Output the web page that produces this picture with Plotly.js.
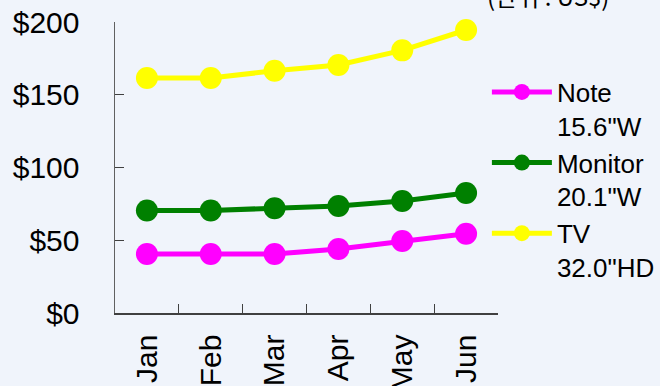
<!DOCTYPE html>
<html>
<head>
<meta charset="utf-8">
<script src="https://cdn.plot.ly/plotly-3.0.1.min.js"></script>
<style>html,body{margin:0;padding:0;background:#f0f4fb;}#chart{width:660px;height:386px;}</style>
</head>
<body>
<div id="chart"></div>
<script>
const months = ["Jan", "Feb", "Mar", "Apr", "May", "Jun"];
const noteValues = [40.5, 40.5, 40.5, 44, 49.5, 54.5];
const monitorValues = [70.5, 70.5, 72, 73.5, 77, 82.5];
const tvValues = [161.5, 161.5, 166.5, 170.5, 180.5, 194.5];
const seriesNames = ["Note<br>15.6\"W", "Monitor<br>20.1\"W", "TV<br>32.0\"HD"];
const yTickVals = [0, 50, 100, 150, 200];
const yTickText = ["$0", "$50", "$100", "$150", "$200"];
const unitNote = "(단위 : US$)";

const colors = ["#ff00ff", "#008000", "#ffff00"];
const allValues = [noteValues, monitorValues, tvValues];

const traces = allValues.map((vals, i) => ({
  x: months, y: vals, name: seriesNames[i], type: "scatter", mode: "lines+markers",
  line: {color: colors[i], width: 5},
  marker: {color: colors[i], size: 22},
  cliponaxis: false
}));

const font = "Liberation Sans, Arial, sans-serif";
const layout = {
  width: 660, height: 386,
  paper_bgcolor: "#f0f4fb", plot_bgcolor: "#f0f4fb",
  margin: {l: 115, r: 162, t: 22, b: 73, autoexpand: false},
  showlegend: true,
  legend: {x: 0.971, xanchor: "left", y: 0.84, yanchor: "top", valign: "top",
    font: {family: font, size: 26, color: "#000"}, bgcolor: "rgba(0,0,0,0)",
    tracegroupgap: 4, itemwidth: 60},
  xaxis: {type: "category", tickson: "boundaries", ticks: "inside", ticklen: 9, tickcolor: "#404040",
    showline: true, linecolor: "#404040", linewidth: 1.5, showgrid: false, zeroline: false,
    ticklabelstandoff: 8, automargin: false,
    tickangle: -90, tickfont: {family: font, size: 30, color: "#000"}, range: [-0.5, 5.5]},
  yaxis: {range: [0, 200], tickvals: yTickVals, ticktext: yTickText, ticks: "inside", ticklen: 9,
    tickcolor: "#404040", showline: true, linecolor: "#606060", linewidth: 1.5, showgrid: false,
    zeroline: false, ticklabelstandoff: 28, automargin: false, tickfont: {family: font, size: 30, color: "#000"}},
  annotations: [{text: unitNote, xref: "paper", yref: "paper", x: 1.13, y: 1.09, xanchor: "center",
    yanchor: "middle", showarrow: false, font: {family: "Noto Sans CJK KR, sans-serif", size: 24, color: "#000"}}]
};
Plotly.newPlot("chart", traces, layout, {displayModeBar: false, staticPlot: true});
</script>
</body>
</html>
